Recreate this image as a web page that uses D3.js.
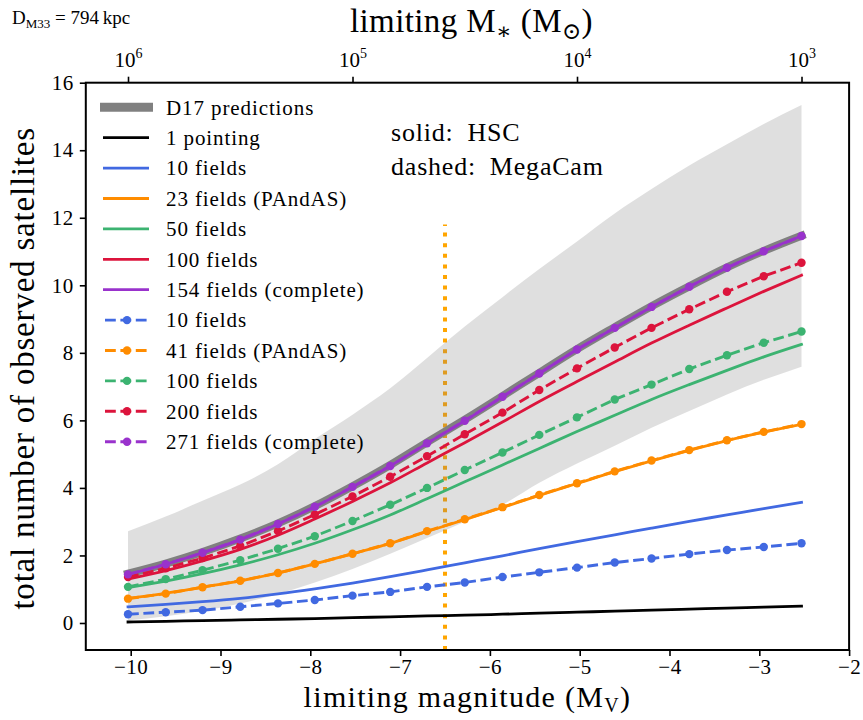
<!DOCTYPE html>
<html>
<head>
<meta charset="utf-8">
<script src="https://cdn.jsdelivr.net/npm/d3@7"></script>
<style>
body { margin: 0; background: #fff; }
text { font-family: "Liberation Serif", "DejaVu Serif", serif; fill: #000; }
</style>
</head>
<body>
<div id="chart"></div>
<script>
// limiting magnitude of each computed point (1/6 dex steps in stellar mass)
var magLimits = [-10.03, -9.61, -9.20, -8.78, -8.36, -7.95, -7.53, -7.11, -6.70, -6.28,
                 -5.86, -5.45, -5.03, -4.61, -4.20, -3.78, -3.36, -2.95, -2.53]

// D17 prediction and its spread
var d17      = [1.46, 1.76, 2.10, 2.50, 2.95, 3.46, 4.05, 4.68, 5.35, 6.02, 6.72, 7.41, 8.11, 8.76, 9.38, 9.97, 10.53, 11.02, 11.47]
var bandLow  = [0.08, 0.20, 0.36, 0.58, 0.86, 1.20, 1.60, 2.05, 2.52, 3.00, 3.50, 4.15, 4.72, 5.25, 5.78, 6.28, 6.77, 7.20, 7.59]
var bandHigh = [2.72, 3.15, 3.62, 4.10, 4.70, 5.45, 6.17, 6.95, 7.85, 8.78, 9.65, 10.48, 11.30, 12.13, 12.85, 13.55, 14.18, 14.78, 15.34]

// solid: HSC
var hsc1   = [0.03, 0.05, 0.07, 0.09, 0.11, 0.13, 0.16, 0.18, 0.21, 0.23, 0.26, 0.29, 0.32, 0.35, 0.38, 0.41, 0.44, 0.47, 0.50]
var hsc10  = [0.48, 0.55, 0.63, 0.73, 0.86, 1.01, 1.18, 1.37, 1.57, 1.78, 1.99, 2.20, 2.41, 2.61, 2.81, 3.01, 3.20, 3.39, 3.57]
var hsc23  = [0.73, 0.88, 1.06, 1.25, 1.48, 1.75, 2.05, 2.36, 2.71, 3.06, 3.42, 3.78, 4.13, 4.48, 4.80, 5.11, 5.40, 5.65, 5.88]
var hsc50  = [1.05, 1.24, 1.46, 1.72, 2.02, 2.36, 2.76, 3.20, 3.68, 4.18, 4.68, 5.17, 5.67, 6.15, 6.62, 7.06, 7.48, 7.88, 8.25]
var hsc100 = [1.30, 1.55, 1.84, 2.18, 2.60, 3.08, 3.60, 4.15, 4.74, 5.34, 5.95, 6.56, 7.15, 7.73, 8.29, 8.82, 9.33, 9.82, 10.30]
var hsc154 = [1.44, 1.74, 2.08, 2.47, 2.93, 3.44, 4.03, 4.65, 5.32, 5.99, 6.70, 7.39, 8.10, 8.74, 9.36, 9.96, 10.52, 11.01, 11.46]

// dashed: MegaCam
var mc10  = [0.26, 0.32, 0.38, 0.48, 0.58, 0.68, 0.81, 0.92, 1.07, 1.20, 1.36, 1.50, 1.64, 1.79, 1.91, 2.04, 2.16, 2.25, 2.36]
var mc41  = [0.72, 0.87, 1.06, 1.25, 1.48, 1.75, 2.05, 2.36, 2.72, 3.07, 3.43, 3.79, 4.14, 4.49, 4.81, 5.12, 5.41, 5.66, 5.89]
var mc100 = [1.07, 1.30, 1.56, 1.86, 2.20, 2.57, 3.02, 3.50, 4.00, 4.53, 5.05, 5.57, 6.09, 6.62, 7.06, 7.52, 7.93, 8.30, 8.63]
var mc200 = [1.36, 1.62, 1.92, 2.28, 2.72, 3.21, 3.75, 4.33, 4.94, 5.59, 6.23, 6.90, 7.54, 8.16, 8.74, 9.29, 9.81, 10.27, 10.67]
var mc271 = [1.44, 1.74, 2.08, 2.47, 2.93, 3.44, 4.03, 4.65, 5.32, 5.99, 6.70, 7.39, 8.10, 8.74, 9.36, 9.96, 10.52, 11.01, 11.46]

var xTicks = [-10, -9, -8, -7, -6, -5, -4, -3, -2]
var yTicks = [0, 2, 4, 6, 8, 10, 12, 14, 16]
var massTicks = [6, 5, 4, 3]   // log10 of limiting stellar mass
var pandasMag = -6.5

var solidSeries = [
    {name: "1 pointing", values: hsc1, color: "black"},
    {name: "10 fields", values: hsc10, color: "royalblue"},
    {name: "23 fields (PAndAS)", values: hsc23, color: "darkorange"},
    {name: "50 fields", values: hsc50, color: "mediumseagreen"},
    {name: "100 fields", values: hsc100, color: "crimson"},
    {name: "154 fields (complete)", values: hsc154, color: "darkorchid"}
]
var dashedSeries = [
    {name: "10 fields", values: mc10, color: "royalblue"},
    {name: "41 fields (PAndAS)", values: mc41, color: "darkorange"},
    {name: "100 fields", values: mc100, color: "mediumseagreen"},
    {name: "200 fields", values: mc200, color: "crimson"},
    {name: "271 fields (complete)", values: mc271, color: "darkorchid"}
]

var width = 863, height = 720
var pLeft = 85.8, pRight = 849.1, pTop = 82.7, pBottom = 650

var svg = d3.select("#chart").append("svg")
    .attr("width", width)
    .attr("height", height)

var x = d3.scaleLinear().domain([-10.5, -2]).range([pLeft, pRight])
var y = d3.scaleLinear().domain([-0.8, 16]).range([pBottom, pTop])

// stellar mass -> magnitude (2.5 mag per dex, 10^6 Msun at the first point)
function massToMag(lm) { return magLimits[0] + (6 - lm) * 2.5 }

var plot = svg.append("g")

// PAndAS depth marker
plot.append("line")
    .attr("x1", x(pandasMag)).attr("x2", x(pandasMag))
    .attr("y1", pBottom).attr("y2", pBottom - 0.75 * (pBottom - pTop))
    .attr("stroke", "orange")
    .attr("stroke-width", 4)
    .attr("stroke-dasharray", "4,6.6")

// D17 spread
var area = d3.area()
    .curve(d3.curveMonotoneX)
    .x(function(d, i) { return x(magLimits[i]) })
    .y0(function(d, i) { return y(bandLow[i]) })
    .y1(function(d) { return y(d) })
plot.append("path")
    .attr("d", area(bandHigh))
    .attr("fill", "gray")
    .attr("fill-opacity", 0.25)

var smooth = d3.line()
    .curve(d3.curveMonotoneX)
    .x(function(d, i) { return x(magLimits[i]) })
    .y(function(d) { return y(d) })
var line = d3.line()
    .x(function(d, i) { return x(magLimits[i]) })
    .y(function(d) { return y(d) })

plot.append("path")
    .attr("d", smooth(d17))
    .attr("fill", "none")
    .attr("stroke", "gray")
    .attr("stroke-width", 8)
    .attr("stroke-linecap", "square")

solidSeries.forEach(function(s) {
    plot.append("path")
        .attr("d", smooth(s.values))
        .attr("fill", "none")
        .attr("stroke", s.color)
        .attr("stroke-width", 2.8)
        .attr("stroke-linecap", "square")
})

dashedSeries.forEach(function(s) {
    plot.append("path")
        .attr("d", line(s.values))
        .attr("fill", "none")
        .attr("stroke", s.color)
        .attr("stroke-width", 2.9)
        .attr("stroke-dasharray", "10.8,4.6")
    plot.selectAll(null)
        .data(s.values)
        .enter()
        .append("circle")
        .attr("cx", function(d, i) { return x(magLimits[i]) })
        .attr("cy", function(d) { return y(d) })
        .attr("r", 4.2)
        .attr("fill", s.color)
})

// frame
svg.append("rect")
    .attr("x", pLeft).attr("y", pTop)
    .attr("width", pRight - pLeft).attr("height", pBottom - pTop)
    .attr("fill", "none")
    .attr("stroke", "black")
    .attr("stroke-width", 2)

// axes
var xAxis = svg.append("g")
    .attr("transform", "translate(0," + pBottom + ")")
    .call(d3.axisBottom(x).tickValues(xTicks).tickSize(6).tickPadding(3)
        .tickFormat(function(d) { return d < 0 ? "\u2212" + Math.abs(d) : d }))
var yAxis = svg.append("g")
    .attr("transform", "translate(" + pLeft + ",0)")
    .call(d3.axisLeft(y).tickValues(yTicks).tickSize(6).tickPadding(6))
var topAxis = svg.append("g")
    .attr("transform", "translate(0," + pTop + ")")
    .call(d3.axisTop(x).tickValues(massTicks.map(massToMag)).tickSize(6).tickPadding(8)
        .tickFormat(function() { return "" }))

;[xAxis, yAxis, topAxis].forEach(function(a) {
    a.select(".domain").remove()
    a.selectAll(".tick line").attr("stroke", "black").attr("stroke-width", 1.6)
    a.selectAll(".tick text")
        .style("font-family", "Liberation Serif")
        .style("font-size", "21px")
        .style("letter-spacing", "0.5px")
})
xAxis.selectAll(".tick text").attr("dy", "0.72em")

// 10^n labels on top axis
topAxis.selectAll(".tick").each(function(d, i) {
    var t = d3.select(this).append("text")
        .attr("y", -16)
        .attr("text-anchor", "middle")
        .style("font-size", "21px")
    t.append("tspan").text("10")
    t.append("tspan").attr("dy", -9).style("font-size", "14px").text(massTicks[i])
})

// axis titles
var xl = svg.append("text")
    .attr("x", (pLeft + pRight) / 2).attr("y", 707)
    .attr("text-anchor", "middle")
    .style("font-size", "30px")
    .style("letter-spacing", "1.3px")
xl.append("tspan").text("limiting magnitude (M")
xl.append("tspan").attr("dy", 5).style("font-size", "20px").text("V")
xl.append("tspan").attr("dy", -5).text(")")

var tl = svg.append("text")
    .attr("x", (pLeft + pRight) / 2 + 4).attr("y", 32)
    .attr("text-anchor", "middle")
    .style("font-size", "33px")
    .style("letter-spacing", "0.4px")
tl.append("tspan").text("limiting M")
tl.append("tspan").attr("dy", 7).style("font-size", "23px").text("\u2217")
tl.append("tspan").attr("dy", -7).text(" (M")
tl.append("tspan").attr("dy", 7).style("font-size", "23px").text("\u2299")
tl.append("tspan").attr("dy", -7).text(")")

svg.append("text")
    .attr("transform", "translate(34," + ((pTop + pBottom) / 2 + 2) + ") rotate(-90)")
    .attr("text-anchor", "middle")
    .style("font-size", "33px")
    .style("letter-spacing", "0.8px")
    .text("total number of observed satellites")

var dl = svg.append("text")
    .attr("x", 12).attr("y", 24)
    .style("font-size", "19px")
dl.append("tspan").text("D")
dl.append("tspan").attr("dy", 4).style("font-size", "13px").text("M33")
dl.append("tspan").attr("dy", -4).text(" = 794\u2009kpc")

svg.append("text").attr("x", 391).attr("y", 141)
    .style("font-size", "26px").style("letter-spacing", "0.8px").text("solid:\u2002HSC")
svg.append("text").attr("x", 391).attr("y", 175)
    .style("font-size", "26px").style("letter-spacing", "0.8px").text("dashed:\u2002MegaCam")

// legend
var legendRows = [{name: "D17 predictions", color: "gray", kind: "band"}]
    .concat(solidSeries.map(function(s) { return {name: s.name, color: s.color, kind: "solid"} }))
    .concat(dashedSeries.map(function(s) { return {name: s.name, color: s.color, kind: "dashed"} }))

var legend = svg.append("g")
var rows = legend.selectAll("g")
    .data(legendRows)
    .enter()
    .append("g")
    .attr("transform", function(d, i) { return "translate(100," + (107.3 + i * 30.4) + ")" })

rows.each(function(d) {
    var g = d3.select(this)
    if (d.kind == "band") {
        g.append("line").attr("x1", 0).attr("x2", 53)
            .attr("stroke", d.color).attr("stroke-width", 9)
    } else if (d.kind == "solid") {
        g.append("line").attr("x1", 3).attr("x2", 49)
            .attr("stroke", d.color).attr("stroke-width", 2.8)
    } else {
        g.append("line").attr("x1", 5).attr("x2", 48)
            .attr("stroke", d.color).attr("stroke-width", 2.9)
            .attr("stroke-dasharray", "10.8,4.6")
        g.append("circle").attr("cx", 27).attr("r", 4.2).attr("fill", d.color)
    }
    g.append("text").attr("x", 66).attr("dy", "0.35em")
        .style("font-size", "21px")
        .style("letter-spacing", "0.9px")
        .text(d.name)
})
</script>
</body>
</html>
